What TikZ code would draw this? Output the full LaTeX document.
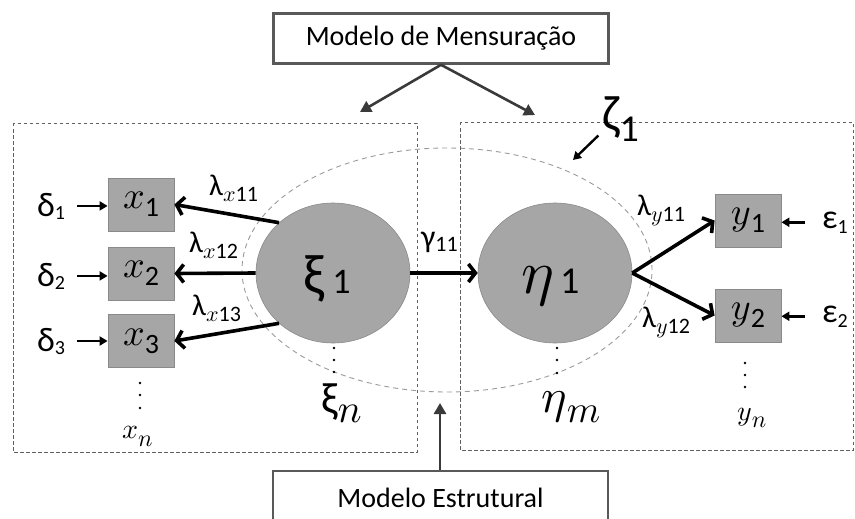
\documentclass[tikz,border=0pt]{standalone}
\usepackage{fontspec}
\setmainfont{Carlito}
\DeclareFontFamily{OML}{cmm}{\skewchar\font'177}
\DeclareFontShape{OML}{cmm}{m}{it}{<->cmmi10}{}
\usetikzlibrary{arrows.meta,shapes.geometric,calc}
\newcommand\fs[1]{\fontsize{#1}{#1}\selectfont}
\newcommand\lo[2]{\raisebox{-#1pt}{#2}}
\definecolor{boxgray}{HTML}{A6A6A6}
\definecolor{edgegray}{HTML}{8A8A8A}
\definecolor{framegray}{HTML}{606060}
\definecolor{ellgray}{HTML}{9A9A9A}
\definecolor{titlegray}{HTML}{595959}
\definecolor{pointgray}{HTML}{3A3A3A}
\begin{document}
\begin{tikzpicture}[x=1pt,y=-1pt,
  obs/.style={draw=edgegray, line width=0.8pt, fill=boxgray, minimum width=66pt, minimum height=53pt, inner sep=0pt},
  latent/.style={ellipse, draw=edgegray, line width=0.6pt, fill=boxgray, minimum width=154pt, minimum height=140pt, inner sep=0pt},
  frame/.style={draw=framegray, line width=0.8pt, dash pattern=on 3.5pt off 2.5pt},
  bigell/.style={draw=ellgray, line width=0.9pt, dash pattern=on 5pt off 4pt},
  titlebox/.style={draw=titlegray, line width=2.6pt, fill=white, minimum width=335pt, minimum height=50pt, inner sep=0pt, font=\fs{28}},
  load/.style={line width=3.6pt, -{Straight Barb[length=7pt,width=18pt]}},
  err/.style={line width=2.6pt, -{Triangle[length=8pt,width=9pt]}},
  pointer/.style={draw=pointgray, line width=2.6pt, -{Triangle[length=11pt,width=12pt]}},
  lbl/.style={inner sep=0pt, anchor=base west},
  vdot/.style={fill=black}
]
\clip (0,0) rectangle (855,519);
\useasboundingbox (0,0) rectangle (855,519);

% dashed ellipse and frames
\draw[bigell] (447,270) ellipse [x radius=205pt, y radius=122pt];
\draw[frame] (13,123) rectangle (417,452);
\draw[frame] (460,122) rectangle (853,450);

% title boxes
\node[titlebox] (mm) at (441,38.5) {\raisebox{-3pt}{Modelo de Mensuração}};
\node[titlebox, minimum height=54pt] (me) at (440.5,498) {\raisebox{-1pt}{Modelo Estrutural}};
\coordinate (mmL) at (360,112);
\coordinate (mmR) at (535,115);
\coordinate (meT) at (440,403);
\draw[pointer] (mm.south) -- (mmL);
\draw[pointer] (mm.south) -- (mmR);
\draw[pointer] (me.north -| meT) -- (meT);

% latent variables
\node[latent] (xi) at (333,273) {};
\node[latent] (eta) at (555,273) {};
\node[lbl] (xit) at (303,293) {{\fs{56}ξ}\hspace{8pt}{\fs{36}1}};
\node[lbl] (etat) at (521,293) {{\fs{62}$\eta$}\hspace{6pt}{\fs{38}1}};

% observed variables
\node[obs] (x1) at (141,204.5) {\fs{38}$x$\lo{8}{\fs{28}1}};
\node[obs] (x2) at (141,273.5) {\fs{38}$x$\lo{8}{\fs{28}2}};
\node[obs] (x3) at (141,341) {\fs{38}$x$\lo{8}{\fs{28}3}};
\node[obs] (y1) at (748,220.5) {\fs{38}$y$\lo{8}{\fs{28}1}};
\node[obs] (y2) at (748,315.5) {\fs{38}$y$\lo{8}{\fs{28}2}};

% error labels
\node[lbl] (d1) at (37,216) {\fs{34}δ\lo{3}{\fs{20}1}};
\node[lbl] (d2) at (37,286) {\fs{34}δ\lo{3}{\fs{20}2}};
\node[lbl] (d3) at (37,351) {\fs{34}δ\lo{3}{\fs{20}3}};
\node[lbl] (e1) at (822,228) {\fs{34}ε\lo{5}{\fs{20}1}};
\node[lbl] (e2) at (822,322) {\fs{34}ε\lo{5}{\fs{20}2}};
\node[lbl] (z1) at (602,131) {{\fs{50}ζ}\lo{10}{\fs{38}1}};

\draw[err, shorten <=12pt] (d1.east) -- (d1.east -| x1.west);
\draw[err, shorten <=12pt] (d2.east) -- (d2.east -| x2.west);
\draw[err, shorten <=12pt] (d3.east) -- (d3.east -| x3.west);
\draw[err, shorten <=17pt] (e1.west) -- (e1.west -| y1.east);
\draw[err, shorten <=17pt] (e2.west) -- (e2.west -| y2.east);
\coordinate (zt) at (573,160);
\draw[err, line width=2.4pt, shorten <=5pt] (z1.west |- 0,132) -- (zt);

% loadings and structural path
\draw[load] (xi.137) -- (x1.east);
\draw[load] (xi.west) -- (x2.east);
\draw[load] (xi.223) -- (x3.east);
\draw[load] (xi.east) -- (eta.west);
\draw[load] (eta.east) -- (y1.west);
\draw[load] (eta.east) -- (y2.west);

\node[lbl] (l1) at (209,195) {\fs{30}λ\lo{6}{\fs{22}$x$11}};
\node[lbl] (l2) at (189,252) {\fs{30}λ\lo{6}{\fs{22}$x$12}};
\node[lbl] (l3) at (192,315) {\fs{30}λ\lo{6}{\fs{22}$x$13}};
\node[lbl] (g1) at (421,247) {\fs{32}γ\lo{4}{\fs{22}11}};
\node[lbl] (l4) at (637,215) {\fs{30}λ\lo{6}{\fs{22}$y$11}};
\node[lbl] (l5) at (642,327) {\fs{30}λ\lo{6}{\fs{22}$y$12}};

% continuation dots and last indices
\foreach \px/\py in {334/348,334/360,334/372, 140/383,140/395,140/408, 557/348,557/360,557/373, 745/363,745/375,745/387}
  \fill[vdot] (\px,\py) circle (1.4pt);
\node[lbl] (xin) at (321,413) {{\fs{44}ξ}\lo{9}{\fs{40}$n$}};
\node[lbl] (etam) at (541,412) {{\fs{48}$\eta$}\lo{10}{\fs{38}$m$}};
\node[lbl] (xn) at (122,438) {\fs{28}$x$\lo{8}{\fs{24}$n$}};
\node[lbl] (yn) at (737,420) {\fs{28}$y$\lo{7}{\fs{24}$n$}};
\end{tikzpicture}
\end{document}
